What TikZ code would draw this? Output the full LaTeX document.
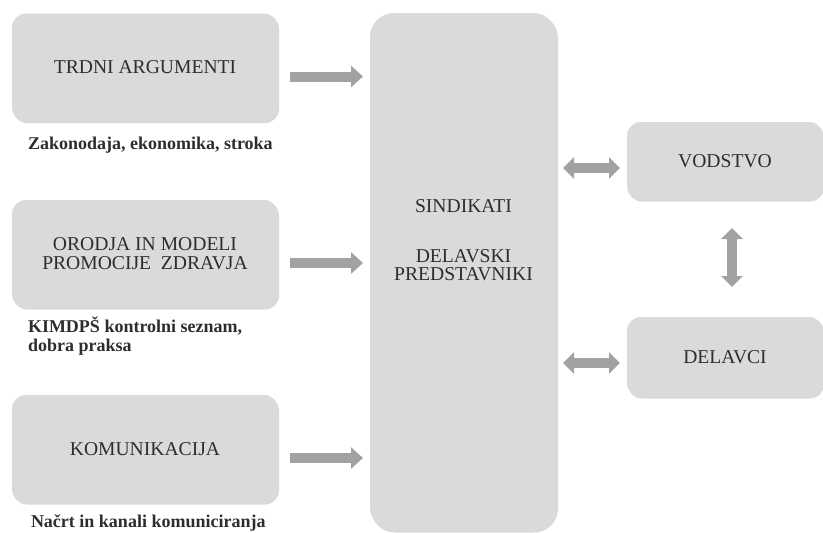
\documentclass[tikz,border=0pt]{standalone}
\usepackage{fontspec}
\setmainfont{Liberation Serif}
\usetikzlibrary{arrows.meta,shadows}
\definecolor{boxgray}{RGB}{218,218,218}
\definecolor{arrowgray}{RGB}{162,162,162}
\definecolor{textgray}{RGB}{45,45,45}

\begin{document}
\begin{tikzpicture}[x=1pt,y=-1pt,every node/.style = {text=textgray, outer sep=0pt},
box/.style = {fill=boxgray, rounded corners=14pt, align=center, font=\fontsize{19.6}{19}\selectfont, drop shadow={shadow xshift=1pt, shadow yshift=-1.5pt, fill=black!30, opacity=0.5}},
sidebox/.style = {box, minimum width=266pt, minimum height=108pt},
lbl/.style = {anchor=west, align=left, inner sep=0pt, font=\fontsize{18}{18.5}\selectfont\bfseries},
bigarrow/.style = {draw=arrowgray, line width=10pt, -{Triangle[length=12pt,width=21pt]}},
dblarrow/.style = {draw=arrowgray, line width=10pt, {Triangle[length=11pt,width=21pt]}-{Triangle[length=11pt,width=21pt]}}]
\useasboundingbox (0,0) rectangle (823,533);
\node[sidebox] (arg) at (145,67.5) {TRDNI ARGUMENTI};
\node[sidebox] (orodja) at (145,254) {ORODJA IN MODELI\\PROMOCIJE\ \ ZDRAVJA};
\node[sidebox] (kom) at (145,449) {KOMUNIKACIJA};
\node[lbl] (arglbl) at (28,145) {Zakonodaja, ekonomika, stroka};
\node[lbl] (orodjalbl) at (28,336) {KIMDPŠ kontrolni seznam,\\dobra praksa};
\node[lbl] (komlbl) at (31,523) {Načrt in kanali komuniciranja};
\node[box, rounded corners=24pt, minimum width=187pt, minimum height=518pt] (sind) at (463.5,272) {};
\node[align=center, font=\fontsize{19.6}{18}\selectfont] (sindtxt) at ([yshift=32pt]sind.center) {SINDIKATI\\[32pt]DELAVSKI\\PREDSTAVNIKI};
\node[box, minimum width=196pt, minimum height=78pt] (vod) at (725,161) {VODSTVO};
\node[box, minimum width=196pt, minimum height=80pt] (del) at (725,357) {DELAVCI};
\draw[bigarrow, shorten <=12pt, shorten >=7pt] ([yshift=-9pt]arg.east) -- ([yshift=-9pt]arg.east -| sind.west);
\draw[bigarrow, shorten <=12pt, shorten >=7pt] ([yshift=-9pt]orodja.east) -- ([yshift=-9pt]orodja.east -| sind.west);
\draw[bigarrow, shorten <=12pt, shorten >=7pt] ([yshift=-9pt]kom.east) -- ([yshift=-9pt]kom.east -| sind.west);
\draw[dblarrow, shorten <=6pt, shorten >=7pt] ([yshift=-7pt]vod.west -| sind.east) -- ([yshift=-7pt]vod.west);
\draw[dblarrow, shorten <=6pt, shorten >=7pt] ([yshift=-6pt]del.west -| sind.east) -- ([yshift=-6pt]del.west);
\draw[dblarrow, shorten <=28pt, shorten >=30pt] ([xshift=7pt]vod.south) -- ([xshift=7pt]del.north);
\end{tikzpicture}
\end{document}
